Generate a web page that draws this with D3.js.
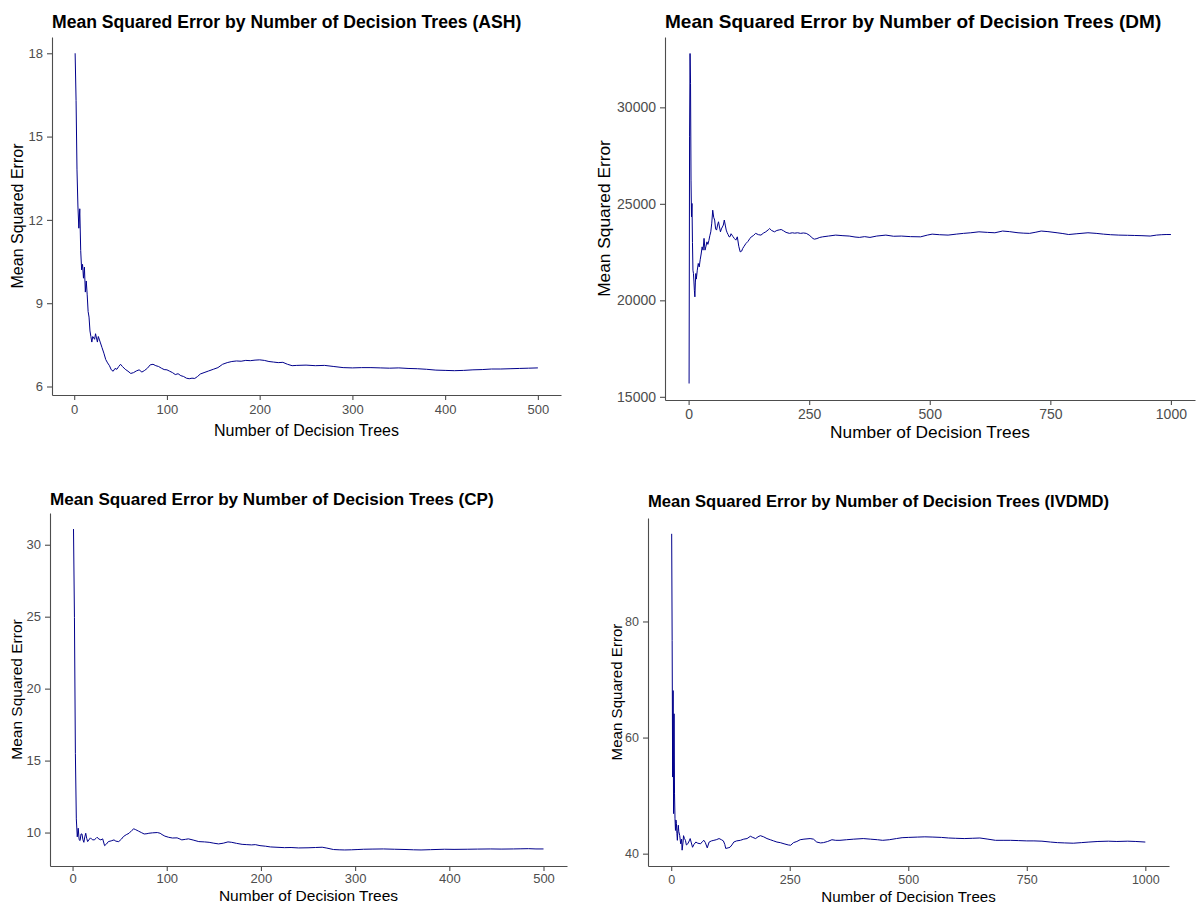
<!DOCTYPE html>
<html>
<head>
<meta charset="utf-8">
<script src="https://cdn.jsdelivr.net/npm/d3@7"></script>
<style>
  html, body { margin: 0; padding: 0; background: #fff; }
  svg { display: block; font-family: "Liberation Sans", Arial, sans-serif; }
  .axis path, .axis line { stroke: #4d4d4d; stroke-width: 1.1; }
  .axis text { fill: #4d4d4d; }
  .chart-title { font-weight: bold; fill: #000; }
  .axis-title { fill: #000; }
</style>
</head>
<body>
<div id="chart"></div>
<script>
// ---- data: trees vs. MSE ----
const ashTrees = [1,2,3,4,5,6,7,8,9,10,11,12,13,14,15,16,17,18,19,20,22,23,25,26,28,30,32,34,36,38,40,42,44,46,48,50,52,55,58,61,64,67,70,73,76,79,82,85,88,91,94,97,100,103,106,109,112,115,118,121,124,127,130,133,136,140,145,150,155,160,165,170,175,180,185,190,195,200,205,210,215,220,225,230,235,240,250,260,270,280,290,300,310,320,330,340,350,360,370,380,390,400,410,420,430,440,450,460,470,480,490,500];
const ashMse = [18.0,16.3,13.8,12.5,11.7,12.4,10.9,10.2,10.4,9.9,10.3,9.4,9.8,9.3,8.7,8.5,8.0,7.8,7.6,7.8,7.7,7.9,7.6,7.8,7.6,7.4,7.2,6.97,6.85,6.75,6.6,6.55,6.65,6.62,6.72,6.8,6.72,6.62,6.55,6.47,6.5,6.56,6.6,6.52,6.58,6.66,6.78,6.8,6.75,6.72,6.66,6.61,6.6,6.55,6.5,6.43,6.46,6.39,6.36,6.3,6.28,6.3,6.29,6.36,6.45,6.5,6.56,6.62,6.68,6.8,6.86,6.9,6.92,6.91,6.94,6.93,6.95,6.96,6.94,6.9,6.88,6.86,6.87,6.8,6.75,6.76,6.77,6.75,6.76,6.72,6.68,6.67,6.68,6.68,6.67,6.66,6.67,6.65,6.64,6.62,6.59,6.58,6.57,6.58,6.6,6.61,6.63,6.63,6.64,6.65,6.66,6.67];

const dmTrees = [1,2,3,4,5,6,7,8,9,10,11,12,13,14,15,16,18,20,22,24,26,28,30,32,34,36,38,40,42,44,46,48,50,52,54,56,58,60,62,64,66,68,70,72,74,76,78,80,82,84,86,88,90,92,95,98,101,104,107,110,112,115,119,123,127,130,134,139,145,150,155,160,165,168,172,178,183,188,192,197,202,209,215,220,226,232,238,244,250,254,258,261,266,272,278,290,305,320,333,345,354,365,376,390,409,425,441,460,481,495,505,520,538,555,570,585,602,620,635,651,665,683,695,707,720,731,745,764,776,788,805,828,845,860,875,892,910,925,940,957,970,981,990,1000];
const dmMse = [15690,28470,32790,31240,26230,24330,25020,23000,21560,21400,21000,20500,20180,20900,21390,21100,21560,21910,21730,22100,22400,22770,22600,23210,22600,22800,23030,22900,23100,23350,23550,24000,24670,24300,24160,23700,23640,23900,24070,23800,23550,23700,23800,23900,24160,23900,23640,23500,23400,23290,23300,23450,23380,23300,23200,23120,23290,22800,22510,22550,22680,22800,22950,23050,23200,23290,23350,23470,23400,23380,23480,23550,23650,23720,23620,23550,23620,23650,23670,23600,23520,23470,23500,23480,23500,23470,23490,23470,23380,23290,23200,23170,23200,23260,23290,23330,23380,23350,23330,23280,23260,23300,23260,23330,23380,23320,23330,23300,23290,23380,23430,23400,23380,23430,23470,23500,23550,23520,23500,23590,23560,23500,23480,23470,23530,23590,23560,23500,23460,23410,23450,23500,23470,23430,23400,23380,23370,23360,23350,23330,23380,23400,23410,23410];

const cpTrees = [1,2,3,4,5,6,7,8,9,10,11,12,13,14,15,16,18,19,21,23,25,26,28,30,32,34,36,38,41,44,46,49,52,54,57,60,63,65,67,70,73,76,79,81,85,90,93,95,98,102,106,111,114,116,120,123,128,134,140,145,150,155,160,165,169,174,180,185,190,194,199,205,210,216,225,232,240,250,258,265,270,277,283,289,296,303,309,318,330,342,354,362,370,380,395,405,419,430,444,455,468,476,484,492,500];
const cpMse = [31.09,24.95,15.5,10.95,9.7,10.3,9.5,9.44,9.9,9.9,9.5,9.32,9.7,9.95,9.6,9.37,9.55,9.63,9.5,9.49,9.6,9.67,9.55,9.49,9.56,9.09,9.2,9.37,9.42,9.49,9.4,9.37,9.55,9.72,9.85,9.95,10.15,10.26,10.2,10.1,10.0,9.9,9.92,9.95,9.98,10.0,9.95,9.86,9.75,9.67,9.62,9.63,9.55,9.49,9.53,9.56,9.48,9.37,9.35,9.32,9.26,9.21,9.26,9.35,9.32,9.25,9.18,9.16,9.14,9.16,9.09,9.05,9.0,8.98,8.95,8.96,8.93,8.94,8.96,8.98,8.92,8.82,8.8,8.79,8.8,8.82,8.84,8.85,8.86,8.84,8.82,8.8,8.79,8.81,8.84,8.83,8.84,8.85,8.86,8.85,8.86,8.87,8.88,8.86,8.86];

const ivTrees = [1,2,3,4,5,6,7,8,9,10,11,12,13,14,15,16,18,20,22,23,25,26,28,30,32,35,38,40,42,45,48,52,56,62,66,69,72,76,80,85,90,95,101,106,110,113,115,120,124,128,132,138,146,153,160,167,172,178,183,188,195,202,209,216,223,230,238,247,252,258,265,272,280,293,300,307,315,321,330,339,347,356,370,385,405,420,435,446,460,475,487,500,520,535,552,570,585,600,618,635,651,668,684,700,716,733,750,765,782,800,815,830,848,865,881,900,922,940,963,980,1000];
const ivMse = [95.1,76.7,53.2,68.1,46.9,64.1,50.3,46.0,44.0,45.8,45.2,43.5,42.3,44.0,44.9,43.8,43.1,41.7,42.5,40.6,42.0,43.1,42.6,42.3,41.5,41.7,42.2,42.6,42.0,41.1,41.6,42.0,41.8,41.7,42.1,42.3,41.9,41.0,42.0,42.2,42.3,42.4,42.6,42.4,42.2,41.6,40.9,41.0,41.1,41.5,42.0,42.2,42.3,42.5,42.6,43.0,42.8,42.6,42.9,43.1,42.9,42.6,42.4,42.2,42.0,41.9,41.7,41.5,41.45,41.9,42.1,42.4,42.5,42.6,42.5,42.0,41.85,41.9,42.1,42.4,42.3,42.3,42.4,42.5,42.6,42.5,42.4,42.3,42.4,42.6,42.75,42.8,42.86,42.9,42.86,42.8,42.7,42.65,42.6,42.65,42.7,42.5,42.3,42.3,42.3,42.25,42.2,42.2,42.15,42.0,41.9,41.85,41.8,41.9,42.0,42.1,42.15,42.1,42.15,42.1,42.0];

// tick labels
const xTicks500 = [0,100,200,300,400,500];
const xTicks1000 = [0,250,500,750,1000];
const ashYTicks = [6,9,12,15,18];
const dmYTicks = [15000,20000,25000,30000];
const cpYTicks = [10,15,20,25,30];
const ivYTicks = [40,60,80];

const titlePrefix = "Mean Squared Error by Number of Decision Trees";
const xLabel = "Number of Decision Trees";
const yLabel = "Mean Squared Error";

// ggplot-style 5% padding on each side
function padExtent(vals){
    const [lo, hi] = d3.extent(vals);
    const pad = (hi - lo) * 0.05;
    return [lo - pad, hi + pad];
}

function drawPanel(svg, p){
    const g = svg.append('g').classed('panel', true);

    const x = d3.scaleLinear()
        .domain(padExtent(p.trees))
        .range([p.left, p.right]);

    const y = d3.scaleLinear()
        .domain(padExtent(p.mse))
        .range([p.bottom, p.top]);

    const xAxis = d3.axisBottom(x)
        .tickValues(p.xTicks)
        .tickSize(p.tick)
        .tickPadding(p.xPad)
        .tickSizeOuter(0)
        .tickFormat(d3.format("d"));

    const yAxis = d3.axisLeft(y)
        .tickValues(p.yTicks)
        .tickSize(p.tick)
        .tickPadding(4)
        .tickSizeOuter(0)
        .tickFormat(d3.format("d"));

    g.append('g')
        .classed('x axis', true)
        .attr('transform', `translate(0,${p.bottom})`)
        .call(xAxis)
        .call(a => a.selectAll('text').style('font-size', p.tickFont + 'px'));

    g.append('g')
        .classed('y axis', true)
        .attr('transform', `translate(${p.left},0)`)
        .call(yAxis)
        .call(a => a.selectAll('text').style('font-size', p.tickFont + 'px'));

    const line = d3.line()
        .x((d, i) => x(p.trees[i]))
        .y(d => y(d));

    g.append('path')
        .datum(p.mse)
        .attr('fill', 'none')
        .attr('stroke', '#00008b')
        .attr('stroke-width', 1)
        .attr('stroke-linejoin', 'round')
        .attr('d', line);

    g.append('text')
        .classed('chart-title', true)
        .attr('x', p.left)
        .attr('y', p.titleY)
        .style('font-size', p.titleFont + 'px')
        .text(`${titlePrefix} (${p.name})`);

    g.append('text')
        .classed('axis-title', true)
        .attr('x', (p.left + p.right) / 2)
        .attr('y', p.xTitleY)
        .attr('text-anchor', 'middle')
        .style('font-size', p.labelFont + 'px')
        .text(xLabel);

    g.append('text')
        .classed('axis-title', true)
        .attr('transform', `translate(${p.yTitleX},${(p.top + p.bottom) / 2}) rotate(-90)`)
        .attr('dy', '0.35em')
        .attr('text-anchor', 'middle')
        .style('font-size', p.labelFont + 'px')
        .text(yLabel);
}

const svg = d3.select('#chart')
    .append('svg')
        .attr('width', 1200)
        .attr('height', 906);

const panels = [
    {name: "ASH", trees: ashTrees, mse: ashMse, xTicks: xTicks500, yTicks: ashYTicks,
     left: 52, right: 561, top: 37, bottom: 395, tick: 5, xPad: 5,
     titleY: 28, titleFont: 17.6, tickFont: 13, labelFont: 16, xTitleY: 436, yTitleX: 17},
    {name: "DM", trees: dmTrees, mse: dmMse, xTicks: xTicks1000, yTicks: dmYTicks,
     left: 665, right: 1195, top: 37, bottom: 400, tick: 5, xPad: 4,
     titleY: 28, titleFont: 19, tickFont: 14, labelFont: 17.3, xTitleY: 438, yTitleX: 604},
    {name: "CP", trees: cpTrees, mse: cpMse, xTicks: xTicks500, yTicks: cpYTicks,
     left: 50, right: 567, top: 513, bottom: 866, tick: 5, xPad: 3,
     titleY: 505, titleFont: 17.1, tickFont: 13, labelFont: 15.5, xTitleY: 901, yTitleX: 17},
    {name: "IVDMD", trees: ivTrees, mse: ivMse, xTicks: xTicks1000, yTicks: ivYTicks,
     left: 648, right: 1169, top: 518, bottom: 866, tick: 5, xPad: 4,
     titleY: 507, titleFont: 16.6, tickFont: 12.5, labelFont: 15.1, xTitleY: 902, yTitleX: 617}
];

panels.forEach(p => drawPanel(svg, p));
</script>
</body>
</html>
